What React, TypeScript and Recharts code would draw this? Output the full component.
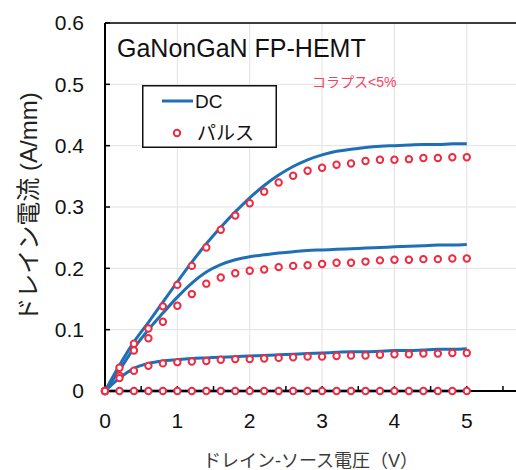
import React from 'react';
import { LineChart, Line, XAxis, YAxis, CartesianGrid, ReferenceLine, Legend, Label } from 'recharts';

// ドレイン-ソース電圧 (V)
const vds = [0, 0.2, 0.4, 0.6, 0.8, 1.0, 1.2, 1.4, 1.6, 1.8, 2.0, 2.2, 2.4, 2.6, 2.8, 3.0, 3.2, 3.4, 3.6, 3.8, 4.0, 4.2, 4.4, 4.6, 4.8, 5.0];

// DC (A/mm)
const dcTop = [0, 0.042, 0.08, 0.112, 0.145, 0.178, 0.21, 0.24, 0.267, 0.292, 0.315, 0.335, 0.352, 0.366, 0.377, 0.385, 0.391, 0.394, 0.397, 0.399, 0.4, 0.401, 0.402, 0.402, 0.403, 0.403];
const dcMid = [0, 0.034, 0.07, 0.1, 0.127, 0.153, 0.176, 0.194, 0.206, 0.214, 0.219, 0.222, 0.225, 0.227, 0.229, 0.23, 0.231, 0.232, 0.233, 0.234, 0.235, 0.236, 0.237, 0.238, 0.238, 0.239];
const dcLow = [0, 0.021, 0.037, 0.045, 0.049, 0.051, 0.053, 0.054, 0.055, 0.056, 0.057, 0.058, 0.059, 0.06, 0.061, 0.062, 0.063, 0.064, 0.064, 0.065, 0.066, 0.066, 0.067, 0.068, 0.068, 0.069];
const dcOff = [0, 0, 0, 0, 0, 0, 0, 0, 0, 0, 0, 0, 0, 0, 0, 0, 0, 0, 0, 0, 0, 0, 0, 0, 0, 0];

// パルス (A/mm)
const pulseTop = [0, 0.038, 0.077, 0.102, 0.138, 0.173, 0.204, 0.234, 0.263, 0.286, 0.306, 0.325, 0.34, 0.351, 0.359, 0.364, 0.369, 0.371, 0.375, 0.377, 0.377, 0.378, 0.38, 0.38, 0.381, 0.381];
const pulseMid = [0, 0.025, 0.066, 0.086, 0.113, 0.139, 0.158, 0.175, 0.185, 0.192, 0.196, 0.198, 0.202, 0.204, 0.205, 0.207, 0.209, 0.209, 0.211, 0.213, 0.214, 0.214, 0.215, 0.215, 0.216, 0.216];
const pulseLow = [0, 0.021, 0.033, 0.041, 0.045, 0.047, 0.048, 0.049, 0.051, 0.052, 0.052, 0.053, 0.054, 0.055, 0.056, 0.056, 0.057, 0.058, 0.058, 0.059, 0.06, 0.06, 0.061, 0.061, 0.062, 0.062];
const pulseOff = [0, 0, 0, 0, 0, 0, 0, 0, 0, 0, 0, 0, 0, 0, 0, 0, 0, 0, 0, 0, 0, 0, 0, 0, 0, 0];

const xTicks = [0, 0.5, 1, 1.5, 2, 2.5, 3, 3.5, 4, 4.5, 5, 5.5];
const yTicks = [0, 0.1, 0.2, 0.3, 0.4, 0.5, 0.6];
const gridX = [1, 2, 3, 4, 5];

const BLUE = '#1f6fb6';
const RED = '#ee2b40';
const SANS = '"Liberation Sans", Arial, sans-serif';
const JP = '"Liberation Sans", "Noto Sans CJK JP", sans-serif';

const data = vds.map((v, i) => ({
  vds: v,
  dc1: dcTop[i], dc2: dcMid[i], dc3: dcLow[i], dc4: dcOff[i],
  p1: pulseTop[i], p2: pulseMid[i], p3: pulseLow[i], p4: pulseOff[i],
}));

const pulseDot = { r: 3.2, stroke: RED, strokeWidth: 2, fill: '#fff' };

const YTitle = ({ viewBox }: any) => {
  const cx = 28;
  const cy = viewBox.y + viewBox.height / 2;
  return (
    <text x={cx} y={cy} transform={`rotate(-90 ${cx} ${cy})`} textAnchor="middle" dominantBaseline="central"
      fontSize={24} fontFamily={JP} fill="#222">
      ドレイン電流 (A/mm)
    </text>
  );
};

const LegendBox = () => (
  <svg width={135} height={63} style={{ display: 'block' }}>
    <rect x={0.75} y={0.75} width={133.5} height={61.5} fill="#fff" stroke="#111" strokeWidth={1.5} />
    <line x1={20} x2={51} y1={16} y2={16} stroke={BLUE} strokeWidth={3} />
    <text x={53} y={23} fontSize={19} fontFamily={SANS} fill="#111">DC</text>
    <circle cx={35} cy={48} r={3.2} fill="#fff" stroke={RED} strokeWidth={2} />
    <text x={55} y={55} fontSize={19} fontFamily={JP} fill="#111">パルス</text>
  </svg>
);

export default function App() {
  return (
    <div style={{ position: 'absolute', left: 0, top: 0, width: 516, height: 470, background: '#fff' }}>
      <LineChart width={516} height={470} data={data} margin={{ top: 23, right: 0, bottom: 0, left: 0 }}>
        <CartesianGrid stroke="#e2e2e2" strokeWidth={1} verticalValues={gridX} horizontalValues={yTicks} />
        <XAxis
          dataKey="vds" type="number" domain={[0, 5.68]} ticks={xTicks} height={79}
          tickFormatter={(v: number) => (Number.isInteger(v) ? String(v) : '')}
          tickSize={-5} tickMargin={27}
          axisLine={{ stroke: '#000', strokeWidth: 2 }} tickLine={{ stroke: '#000', strokeWidth: 1.5 }}
          tick={{ fontSize: 21, fontFamily: SANS, fill: '#111' }}
        >
          <Label value="ドレイン-ソース電圧（V）" position="insideBottom" offset={3} fontSize={18} fontFamily={JP} fill="#3a3a3a" />
        </XAxis>
        <YAxis
          type="number" domain={[0, 0.6]} ticks={yTicks} width={105}
          tickFormatter={(v: number) => (v === 0 ? '0' : v.toFixed(1))}
          tickSize={-5} tickMargin={26}
          axisLine={{ stroke: '#000', strokeWidth: 2 }} tickLine={{ stroke: '#000', strokeWidth: 1.5 }}
          tick={{ fontSize: 21, fontFamily: SANS, fill: '#111' }}
        >
          <Label content={<YTitle />} />
        </YAxis>
        <ReferenceLine y={0.6} stroke="#000" strokeWidth={1.5} />
        <Legend layout="vertical" align="center" verticalAlign="middle" content={<LegendBox />}
          wrapperStyle={{ left: 142, top: 85, width: 135, height: 63 }} />

        <Line type="monotone" dataKey="dc1" stroke={BLUE} strokeWidth={3} dot={false} isAnimationActive={false} />
        <Line type="monotone" dataKey="dc2" stroke={BLUE} strokeWidth={3} dot={false} isAnimationActive={false} />
        <Line type="monotone" dataKey="dc3" stroke={BLUE} strokeWidth={3} dot={false} isAnimationActive={false} />
        <Line type="monotone" dataKey="dc4" stroke={BLUE} strokeWidth={3} dot={false} isAnimationActive={false} />

        <Line dataKey="p1" stroke="none" dot={pulseDot} isAnimationActive={false} />
        <Line dataKey="p2" stroke="none" dot={pulseDot} isAnimationActive={false} />
        <Line dataKey="p3" stroke="none" dot={pulseDot} isAnimationActive={false} />
        <Line dataKey="p4" stroke="none" dot={pulseDot} isAnimationActive={false} />
      </LineChart>
      <svg width={516} height={470} style={{ position: 'absolute', left: 0, top: 0, pointerEvents: 'none' }}>
        <text x={117} y={57} fontSize={25} fontFamily={SANS} fill="#111">GaNonGaN FP-HEMT</text>
        <text x={312} y={87} fontSize={14} fontFamily={JP} fill="#ef4565">コラプス&lt;5%</text>
      </svg>
    </div>
  );
}
